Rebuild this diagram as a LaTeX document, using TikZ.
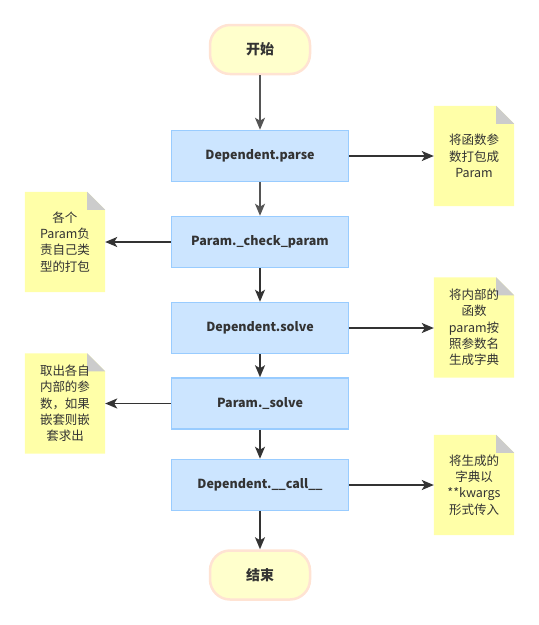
\documentclass[tikz,border=0pt]{standalone}
\usepackage{fontspec}
\setmainfont{Noto Sans CJK SC}
\usetikzlibrary{arrows.meta,backgrounds}
\definecolor{boxfill}{HTML}{CCE5FF}
\definecolor{boxline}{HTML}{99CCFF}
\definecolor{termfill}{HTML}{FFFFCC}
\definecolor{termline}{HTML}{FFE3D3}
\definecolor{notefill}{HTML}{FFFFA8}
\definecolor{foldgray}{HTML}{CCCCCC}
\definecolor{txt}{HTML}{333333}
\definecolor{lightarrow}{HTML}{555555}
\definecolor{darkarrow}{HTML}{333333}
\tikzset{
  stepbox/.style={rectangle, draw=boxline, fill=boxfill, line width=1.5pt,
    minimum width=177pt, minimum height=51pt, text=txt,
    font=\fontsize{12.5}{15}\selectfont\bfseries},
  termbox/.style={rectangle, rounded corners=20pt, draw=termline, fill=termfill,
    line width=2.5pt, minimum width=100pt, minimum height=49pt, text=txt,
    font=\fontsize{14}{16}\selectfont\bfseries},
  notetext/.style={minimum width=80pt, minimum height=100pt, align=center,
    text=txt, inner sep=0pt, font=\fontsize{12.5}{16.3}\selectfont},
  flow/.style={line width=1.6pt, draw=darkarrow,
    -{Stealth[length=12pt,width=10pt,inset=3pt]}},
  flowlight/.style={flow, draw=lightarrow},
}
\newcommand{\paintnote}[1]{%
  \fill[notefill] (#1.south west) -- (#1.north west) -- ([xshift=-18pt]#1.north east)
    -- ([yshift=-18pt]#1.north east) -- (#1.south east) -- cycle;
  \fill[foldgray] ([xshift=-18pt]#1.north east) -- ([yshift=-18pt]#1.north east)
    -- ([xshift=-18pt,yshift=-18pt]#1.north east) -- cycle;}
\begin{document}
\begin{tikzpicture}[x=1pt,y=1pt]
\useasboundingbox (0,0) rectangle (539,-625);
\node[termbox] (start) at (260,-49.5) {开始};
\node[stepbox] (parse) at (260,-156) {Dependent.parse};
\node[stepbox] (check) at (260,-242) {Param.\_check\_param};
\node[stepbox] (solve) at (260,-328) {Dependent.solve};
\node[stepbox] (psolve) at (260,-403.5) {Param.\_solve};
\node[stepbox] (call) at (260,-485) {Dependent.\_\_call\_\_};
\node[termbox] (end) at (260,-575) {结束};

\node[notetext] (n1) at (474,-156) {将函数参\\数打包成\\Param};
\node[notetext] (n2) at (65,-242) {各个\\Param负\\责自己类\\型的打包};
\node[notetext] (n3) at (474,-327.5) {将内部的\\函数\\param按\\照参数名\\生成字典};
\node[notetext] (n4) at (65,-403.5) {取出各自\\内部的参\\数，如果\\嵌套则嵌\\套求出};
\node[notetext] (n5) at (474,-485) {将生成的\\字典以\\**kwargs\\形式传入};
\begin{scope}[on background layer]
\paintnote{n1}\paintnote{n2}\paintnote{n3}\paintnote{n4}\paintnote{n5}
\end{scope}

\draw[flowlight] (start) -- (parse);
\draw[flowlight] (parse) -- (check);
\draw[flow] (check) -- (solve);
\draw[flow] (solve) -- (psolve);
\draw[flow] (psolve) -- (call);
\draw[flow] (call) -- (end);

\draw[flow] (parse.east) -- (n1.west |- parse.east);
\draw[flow] (check.west) -- (n2.east |- check.west);
\draw[flow] (solve.east) -- (n3.west |- solve.east);
\draw[flow] (psolve.west) -- (n4.east |- psolve.west);
\draw[flow] (call.east) -- (n5.west |- call.east);
\end{tikzpicture}
\end{document}
